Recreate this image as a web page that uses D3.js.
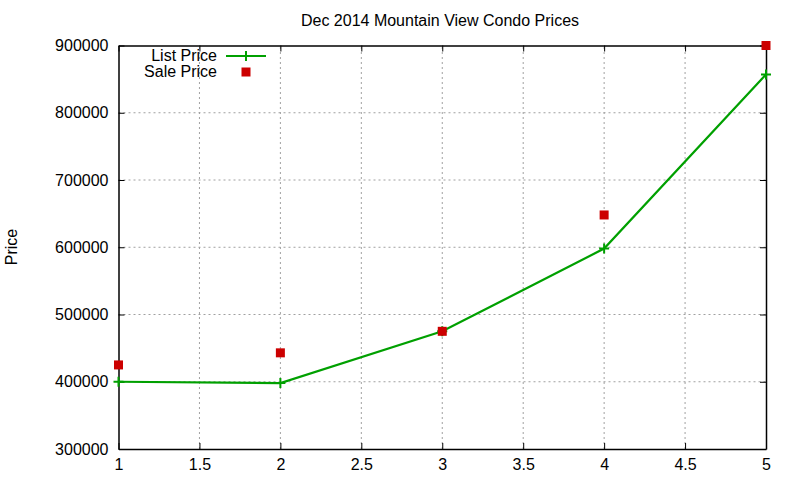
<!DOCTYPE html>
<html>
<head>
<meta charset="utf-8">
<script src="https://cdn.jsdelivr.net/npm/d3@7"></script>
<style>
  body { margin: 0; background: #fff; }
  text { font-family: "Liberation Sans", Arial, sans-serif; fill: #000; }
</style>
</head>
<body>
<script>
// data
var months = [1, 2, 3, 4, 5];
var listPrice = [400000, 398000, 475000, 598000, 857000];
var salePrice = [425000, 443000, 475000, 648000, 900000];
var xTicks = [1, 1.5, 2, 2.5, 3, 3.5, 4, 4.5, 5];
var yTicks = [300000, 400000, 500000, 600000, 700000, 800000, 900000];

var width = 800, height = 480;
var m = { left: 118.5, right: 34, top: 45.5, bottom: 31 };

var svg = d3.select("body").append("svg")
            .attr("width", width)
            .attr("height", height);

var x = d3.scaleLinear().domain([1, 5]).range([m.left, width - m.right]);
var y = d3.scaleLinear().domain([300000, 900000]).range([height - m.bottom, m.top]);

// grid
svg.append("g").selectAll("line").data(xTicks.slice(1, -1)).enter().append("line")
   .attr("x1", function(d) { return x(d); }).attr("x2", function(d) { return x(d); })
   .attr("y1", y(300000)).attr("y2", y(900000))
   .attr("stroke", "#a0a0a0").attr("stroke-dasharray", "2,3");
svg.append("g").selectAll("line").data(yTicks.slice(1, -1)).enter().append("line")
   .attr("y1", function(d) { return y(d); }).attr("y2", function(d) { return y(d); })
   .attr("x1", x(1)).attr("x2", x(5))
   .attr("stroke", "#a0a0a0").attr("stroke-dasharray", "2,3");

// axes, gnuplot style: inward ticks mirrored on all sides
var tick = -6;
var axes = [
  { ax: d3.axisBottom(x).tickValues(xTicks).tickFormat(d3.format("")), t: "translate(0," + y(300000) + ")", labels: true },
  { ax: d3.axisTop(x).tickValues(xTicks), t: "translate(0," + y(900000) + ")", labels: false },
  { ax: d3.axisLeft(y).tickValues(yTicks).tickFormat(d3.format("d")), t: "translate(" + x(1) + ",0)", labels: true },
  { ax: d3.axisRight(y).tickValues(yTicks), t: "translate(" + x(5) + ",0)", labels: false }
];
axes.forEach(function(a) {
  var g = svg.append("g").attr("transform", a.t)
             .call(a.ax.tickSizeInner(tick).tickSizeOuter(0).tickPadding(10));
  g.select(".domain").attr("stroke", "#000").attr("stroke-width", 1.5);
  g.selectAll(".tick line").attr("stroke", "#000").attr("stroke-width", 1);
  g.selectAll("text").style("font-size", "16px")
   .style("font-family", "'Liberation Sans', Arial, sans-serif");
  if (!a.labels) g.selectAll("text").remove();
});

// title and axis label
svg.append("text").attr("x", 440).attr("y", 26)
   .attr("text-anchor", "middle").style("font-size", "16px")
   .text("Dec 2014 Mountain View Condo Prices");
svg.append("text").attr("transform", "translate(17,247) rotate(-90)")
   .attr("text-anchor", "middle").style("font-size", "16px")
   .text("Price");

// list price line
var line = d3.line()
             .x(function(d, i) { return x(months[i]); })
             .y(function(d) { return y(d); });
svg.append("path").datum(listPrice)
   .attr("d", line).attr("fill", "none")
   .attr("stroke", "#00a000").attr("stroke-width", 2.2);

var drawPlus = function(g, cx, cy) {
  g.append("path")
   .attr("d", "M" + (cx - 5) + "," + cy + "H" + (cx + 5) + "M" + cx + "," + (cy - 5) + "V" + (cy + 5))
   .attr("stroke", "#00a000").attr("stroke-width", 2);
};
var plusG = svg.append("g");
listPrice.forEach(function(v, i) { drawPlus(plusG, x(months[i]), y(v)); });

// sale price points
svg.append("g").selectAll("rect").data(salePrice).enter().append("rect")
   .attr("x", function(d, i) { return x(months[i]) - 4.5; })
   .attr("y", function(d) { return y(d) - 4.5; })
   .attr("width", 9).attr("height", 9)
   .attr("fill", "#cc0000");

// legend
var lg = svg.append("g");
lg.append("text").attr("x", 217).attr("y", 61).attr("text-anchor", "end")
  .style("font-size", "16px").text("List Price");
lg.append("text").attr("x", 217).attr("y", 77).attr("text-anchor", "end")
  .style("font-size", "16px").text("Sale Price");
lg.append("line").attr("x1", 226).attr("x2", 266).attr("y1", 56).attr("y2", 56)
  .attr("stroke", "#00a000").attr("stroke-width", 2.2);
drawPlus(lg, 246, 56);
lg.append("rect").attr("x", 241.5).attr("y", 67.5).attr("width", 9).attr("height", 9)
  .attr("fill", "#cc0000");
</script>
</body>
</html>
